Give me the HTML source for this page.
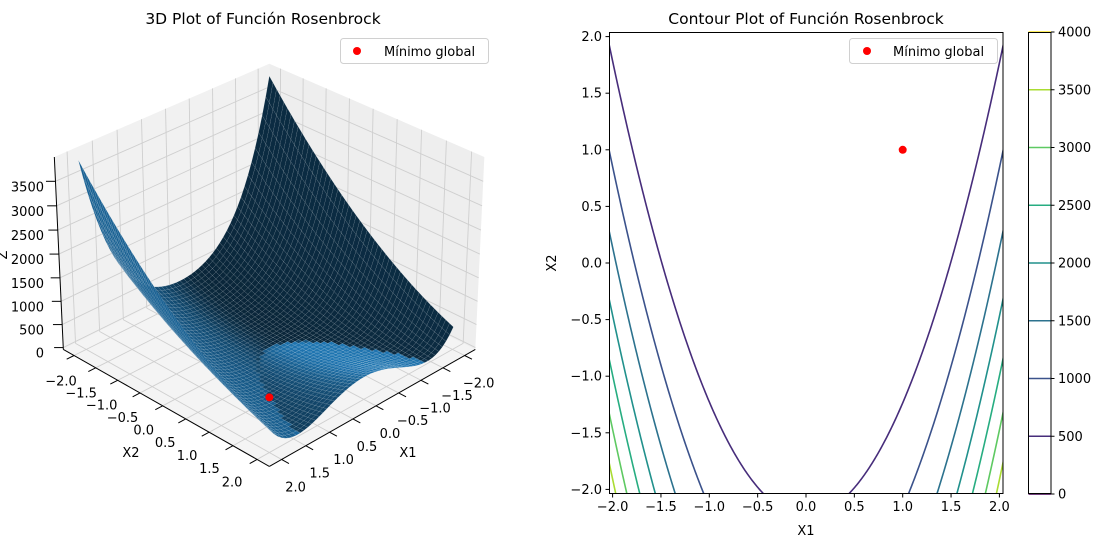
<!DOCTYPE html>
<html><head><meta charset="utf-8"><style>
html,body{margin:0;padding:0;background:#fff;width:1105px;height:547px;overflow:hidden;}
svg{display:block;font-family:"DejaVu Sans","Liberation Sans",sans-serif;overflow:hidden;}
</style></head><body>
<svg id="fig" width="1105" height="547" viewBox="0 0 1105 547">
<text x="263" y="24" text-anchor="middle" font-size="15.5">3D Plot of Función Rosenbrock</text>
<text x="806" y="24" text-anchor="middle" font-size="15.5">Contour Plot of Función Rosenbrock</text>
<g id="g3d"></g>
<g id="g2d"></g>
<g id="gcb"></g>
</svg>
<script>
const levels=[500,1000,1500,2000,2500,3000,3500];
const levelColors=["#472d7b","#3b528b","#2c728e","#21918c","#27ad81","#5ec962","#aadc32"];
const cbTicks=[0,500,1000,1500,2000,2500,3000,3500,4000];
const cbColors=["#440154","#472d7b","#3b528b","#2c728e","#21918c","#27ad81","#5ec962","#aadc32","#fde725"];
const axisTicks=[-2,-1.5,-1,-0.5,0,0.5,1,1.5,2];
const zTicks=[0,500,1000,1500,2000,2500,3000,3500];
const minimumPoint=[1,1,0];

const svg=document.getElementById('fig');
function mk(tag,attrs,parent){const e=document.createElementNS(svg.namespaceURI,tag);for(const k in attrs)e.setAttribute(k,attrs[k]);parent.appendChild(e);return e;}
function rosen(a,b){return (1-a)*(1-a)+100*(b-a*a)*(b-a*a);}
function fmt(t){return (t<0?'\u2212':'')+Math.abs(t).toFixed(1);}

/* ---------- 3D ---------- */
const g3=document.getElementById('g3d');
const XL=[-2.25,2.25],ZL=[-40,3660],A=[1.143,1.143,0.857],D=10;
const ZTK=3700/4030;
const el=30*Math.PI/180,az=45*Math.PI/180;
const w=[Math.cos(el)*Math.cos(az),Math.cos(el)*Math.sin(az),Math.sin(el)];
const u=[-Math.sin(az),Math.cos(az),0];
const v=[-Math.sin(el)*Math.cos(az),-Math.sin(el)*Math.sin(az),Math.cos(el)];
function nrm(x1,x2,z){return [(x1-XL[0])/(XL[1]-XL[0])*A[0]-A[0]/2,(x2-XL[0])/(XL[1]-XL[0])*A[1]-A[1]/2,(z-ZL[0])/(ZL[1]-ZL[0])*A[2]-A[2]/2];}
function raw(x1,x2,z){const d=nrm(x1,x2,z);const xc=d[0]*u[0]+d[1]*u[1]+d[2]*u[2];const yc=d[0]*v[0]+d[1]*v[1]+d[2]*v[2];const zc=d[0]*w[0]+d[1]*w[1]+d[2]*w[2];const f=D/(D-zc);return [xc*f,-yc*f,zc];}
const ref=[[XL[1],XL[0],ZL[0],63,348],[XL[1],XL[1],ZL[0],270,467],[XL[0],XL[1],ZL[0],475,350],[XL[1],XL[0],ZL[1],55,157],[XL[0],XL[1],ZL[1],485,157],[XL[0],XL[0],ZL[1],268,64]];
function fit(ci,si){let n=ref.length,mr=0,ms=0;const rs=ref.map(p=>raw(p[0],p[1],p[2])[ci]);rs.forEach((r,i)=>{mr+=r;ms+=ref[i][si];});mr/=n;ms/=n;let num=0,den=0;rs.forEach((r,i)=>{num+=(r-mr)*(ref[i][si]-ms);den+=(r-mr)*(r-mr);});const k=num/den;return [ms-k*mr,k];}
const FX=fit(0,3),FY=fit(1,4);
function P(x1,x2,z){const r=raw(x1,x2,z);return [FX[0]+FX[1]*r[0],FY[0]+FY[1]*r[1],r[2]];}
function PZ(x1,x2,t){return P(x1,x2,ZL[0]+(t+40)*ZTK);}
function pts(arr){return arr.map(p=>p[0].toFixed(2)+','+p[1].toFixed(2)).join(' ');}

const lo=XL[0],hi=XL[1],zl=ZL[0],zh=ZL[1];
const paneFloor=mk('polygon',{points:pts([P(lo,lo,zl),P(hi,lo,zl),P(hi,hi,zl),P(lo,hi,zl)]),fill:'#f4f4f4'},g3);


const paneL=mk('polygon',{points:pts([P(lo,lo,zl),P(hi,lo,zl),P(hi,lo,zh),P(lo,lo,zh)]),fill:'#f1f1f1'},g3);


const paneR=mk('polygon',{points:pts([P(lo,lo,zl),P(lo,hi,zl),P(lo,hi,zh),P(lo,lo,zh)]),fill:'#eeeeee'},g3);


const grid=mk('g',{stroke:'#cfcfcf','stroke-width':0.9,fill:'none'},g3);


function ln(a,b,parent){return mk('line',{x1:a[0],y1:a[1],x2:b[0],y2:b[1]},parent);}
axisTicks.forEach(t=>{
  let e=ln(P(t,lo,zl),P(t,hi,zl),grid);
  e=ln(P(lo,t,zl),P(hi,t,zl),grid);
  e=ln(P(t,lo,zl),P(t,lo,zh),grid);
  e=ln(P(lo,t,zl),P(lo,t,zh),grid);
});
zTicks.forEach(t=>{
  let e=ln(PZ(hi,lo,t),PZ(lo,lo,t),grid);
  e=ln(PZ(lo,lo,t),PZ(lo,hi,t),grid);
});
const axg=mk('g',{stroke:'#000','stroke-width':1},g3);


let ax=ln(P(hi,lo,zl),P(hi,hi,zl),axg);
ax=ln(P(lo,hi,zl),P(hi,hi,zl),axg);
ax=ln(P(hi,lo,zl),P(hi,lo,zh),axg);
const lab=mk('g',{'font-size':13,fill:'#000'},g3);


axisTicks.forEach(t=>{
  const a=P(hi,t,zl),b=P(hi+0.15,t,zl);
  let e=ln(a,b,axg);
  let tx=mk('text',{x:a[0]-19-3*t,y:a[1]+28.5-0.75*t,'text-anchor':'middle'},lab);tx.textContent=fmt(t);
  
  const c=P(t,hi,zl),d=P(t,hi+0.15,zl);
  e=ln(c,d,axg);
  tx=mk('text',{x:c[0]+14,y:c[1]+32,'text-anchor':'middle'},lab);tx.textContent=fmt(t);
  
});
zTicks.forEach(t=>{
  const a=PZ(hi,lo,t),b=PZ(hi+0.1,lo-0.1,t);
  let e=ln(a,b,axg);
  const tx=mk('text',{x:44,y:a[1]+10,'text-anchor':'end'},lab);tx.textContent=String(t);
  
});
let al=mk('text',{x:131,y:457,'text-anchor':'middle','font-size':13},g3);al.textContent='X2';


al=mk('text',{x:408,y:457,'text-anchor':'middle','font-size':13},g3);al.textContent='X1';


al=mk('text',{x:7,y:255,'text-anchor':'middle','font-size':13,transform:'rotate(-90 7 255)'},g3);al.textContent='Z';


const N=50,h=4/N,L=[-0.667,-0.667,0.333],base=[31,119,180];
const facets=[];
for(let i=0;i<N;i++)for(let j=0;j<N;j++){
  const a0=-2+i*h,b0=-2+j*h;
  const z00=rosen(a0,b0),z10=rosen(a0+h,b0),z11=rosen(a0+h,b0+h),z01=rosen(a0,b0+h);
  const c=[P(a0,b0,z00),P(a0+h,b0,z10),P(a0+h,b0+h,z11),P(a0,b0+h,z01)];
  const nx=h*(z01-z10)-(z11-z00)*h,ny=-(z11-z00)*h-h*(z01-z10),nz=2*h*h;
  const nl=Math.hypot(nx,ny,nz);const s=(nx*L[0]+ny*L[1]+nz*L[2])/nl;
  const k=0.3+0.35*(s+1);
  facets.push({c,d:(c[0][2]+c[1][2]+c[2][2]+c[3][2])/4,col:`rgb(${Math.round(base[0]*k)},${Math.round(base[1]*k)},${Math.round(base[2]*k)})`});
}
facets.sort((p,q)=>p.d-q.d);
const sg=mk('g',{stroke:'rgba(255,255,255,0.16)','stroke-width':0.45},g3);


facets.forEach(f=>{const e=mk('polygon',{points:pts(f.c),fill:f.col},sg);});
const m3=P(minimumPoint[0],minimumPoint[1],minimumPoint[2]);
const dot3=mk('circle',{cx:m3[0],cy:m3[1],r:4,fill:'#ff0000'},g3);


const lg3=mk('g',{},g3);


mk('rect',{x:340.5,y:38.5,width:148,height:25,rx:3,fill:'#fff',stroke:'#d0d0d0','fill-opacity':0.8},lg3);
mk('circle',{cx:357,cy:51,r:4,fill:'#ff0000'},lg3);
const lt3=mk('text',{x:384,y:56,'font-size':13},lg3);lt3.textContent='Mínimo global';



/* ---------- Contour ---------- */
const g2=document.getElementById('g2d');
const X0=806,KX=96.7,Y0=263,KY=113.2;
function sx(x){return X0+KX*x;} function sy(y){return Y0-KY*y;}
const clip=mk('clipPath',{id:'cp'},g2);
mk('rect',{x:609,y:32,width:394,height:462},clip);
const cg=mk('g',{'clip-path':'url(#cp)',fill:'none','stroke-width':1.6},g2);


levels.forEach((c,li)=>{
  [1,-1].forEach(sgn=>{
    let d='',pen=false;
    for(let q=0;q<=400;q++){const x=-2.06+4.12*q/400;const r=(c-(1-x)*(1-x))/100;if(r<0){pen=false;continue;}const y=x*x+sgn*Math.sqrt(r);
      if(y>2.15||y<-2.15){pen=false;continue;}
      d+=(pen?'L':'M')+sx(x).toFixed(2)+','+sy(y).toFixed(2);pen=true;}
    if(!d)return;
    const e=mk('path',{d,stroke:levelColors[li]},cg);
    
  });
});
const fr=mk('rect',{x:609.5,y:32.5,width:393.5,height:461,fill:'none',stroke:'#000','stroke-width':1},g2);


const t2=mk('g',{'font-size':13,stroke:'none'},g2);


axisTicks.forEach(t=>{
  let e=mk('line',{x1:sx(t),y1:494,x2:sx(t),y2:497.5,stroke:'#000'},t2);
  let tx=mk('text',{x:sx(t),y:511,'text-anchor':'middle'},t2);tx.textContent=fmt(t);
  e=mk('line',{x1:609,y1:sy(t),x2:605.5,y2:sy(t),stroke:'#000'},t2);
  tx=mk('text',{x:602,y:sy(t)+4.5,'text-anchor':'end'},t2);tx.textContent=fmt(t);
});
al=mk('text',{x:806,y:535,'text-anchor':'middle','font-size':13},g2);al.textContent='X1';


al=mk('text',{x:556,y:263,'text-anchor':'middle','font-size':13,transform:'rotate(-90 556 263)'},g2);al.textContent='X2';


const dot2=mk('circle',{cx:sx(minimumPoint[0]),cy:sy(minimumPoint[1]),r:4,fill:'#ff0000'},g2);


const lg2=mk('g',{},g2);


mk('rect',{x:849.5,y:38.5,width:148,height:25,rx:3,fill:'#fff',stroke:'#d0d0d0','fill-opacity':0.8},lg2);
mk('circle',{cx:867,cy:51,r:4,fill:'#ff0000'},lg2);
const lt2=mk('text',{x:893,y:56,'font-size':13},lg2);lt2.textContent='Mínimo global';



/* ---------- Colorbar ---------- */
const gcb=document.getElementById('gcb');
function cy(v){return 494-v/4000*462;}
cbTicks.forEach((t,i)=>{
  let e=mk('line',{x1:1028.5,x2:1051,y1:cy(t),y2:cy(t),stroke:cbColors[i],'stroke-width':1.6},gcb);
  e=mk('line',{x1:1051,x2:1054.5,y1:cy(t),y2:cy(t),stroke:'#000'},gcb);
  const tx=mk('text',{x:1058,y:cy(t)+4.5,'font-size':13},gcb);tx.textContent=String(t);
  
});
const cbf=mk('rect',{x:1028.5,y:32.5,width:22.5,height:461,fill:'none',stroke:'#000'},gcb);


</script>
</body></html>
